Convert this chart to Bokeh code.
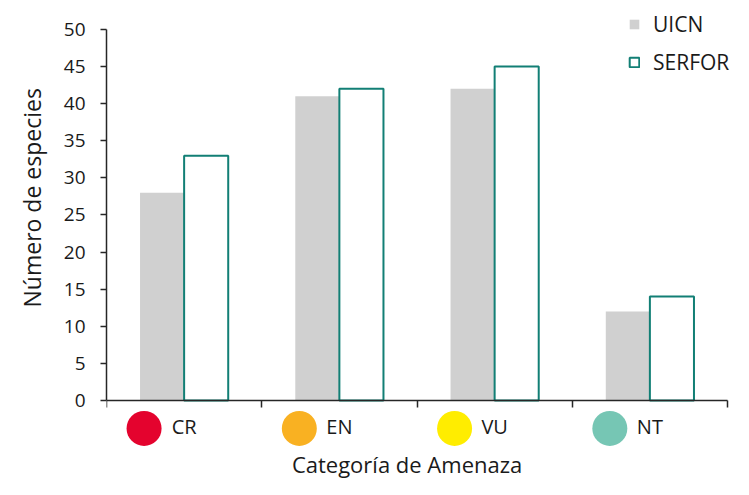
from bokeh.plotting import figure
from bokeh.models import Range1d, FixedTicker, Legend, LegendItem, Label, Title
from bokeh.embed import file_html
from bokeh.resources import INLINE

# ---- data ----
categories = ["CR", "EN", "VU", "NT"]
uicn = [28, 41, 42, 12]
serfor = [33, 42, 45, 14]
cat_colors = ["#E4032E", "#F9B122", "#FFED00", "#76C6B4"]
y_ticks = [0, 5, 10, 15, 20, 25, 30, 35, 40, 45, 50]
x_title = "Categoría de Amenaza"
y_title = "Número de especies"

FONT = "Open Sans"
TXT = "#1a1a1a"

centers = [i + 0.5 for i in range(len(categories))]
bounds_x = [i for i in range(len(categories) + 1)]
bw = 0.284
uicn_x = [c - bw / 2 for c in centers]
serfor_x = [c + bw / 2 for c in centers]

p = figure(width=733, height=479, output_backend="svg", toolbar_location=None,
           title=None,
           x_range=Range1d(0, 4.0386), y_range=Range1d(-10.65, 53.91),
           min_border_left=106, min_border_right=0, min_border_top=0, min_border_bottom=0)
p.outline_line_color = None
p.xgrid.visible = False
p.ygrid.visible = False
p.background_fill_color = "white"
p.border_fill_color = "white"

r_uicn = p.vbar(x=uicn_x, top=uicn, bottom=0, width=bw,
                fill_color="#D0D0D0", line_color=None)
r_serfor = p.vbar(x=serfor_x, top=serfor, bottom=0, width=bw,
                  fill_color="white", line_color="#127F75", line_width=2)

# category markers
p.scatter(x=[c - 0.258 for c in centers], y=[-3.77] * len(centers), size=35,
          fill_color=cat_colors, line_color=None)

# x axis
xa = p.xaxis[0]
xa.fixed_location = 0
xa.bounds = (0, 4)
xa.ticker = FixedTicker(ticks=centers, minor_ticks=bounds_x)
xa.major_label_overrides = {c: n for c, n in zip(centers, categories)}
xa.major_tick_out = 0
xa.major_tick_in = 0
xa.minor_tick_out = 7
xa.minor_tick_in = 0
xa.minor_tick_line_color = "#262626"
xa.minor_tick_line_width = 1.5
xa.axis_line_color = "#262626"
xa.axis_line_width = 1.5
xa.major_label_standoff = 6
xa.major_label_text_font = FONT
xa.major_label_text_font_size = "20px"
xa.major_label_text_color = TXT

# y axis
ya = p.yaxis[0]
ya.bounds = (0, 50)
ya.ticker = FixedTicker(ticks=y_ticks, minor_ticks=[])
ya.major_tick_out = 6
ya.major_tick_in = 0
ya.major_tick_line_color = "#262626"
ya.major_tick_line_width = 1.5
ya.axis_line_color = "#262626"
ya.axis_line_width = 1.5
ya.major_label_standoff = 15
ya.major_label_text_font = FONT
ya.major_label_text_font_size = "19px"
ya.major_label_text_color = TXT

# axis titles
p.add_layout(Label(x=1.936, y=-8.5, text=x_title, text_font=FONT,
                   text_font_size="22px", text_color=TXT,
                   text_align="center", text_baseline="middle"))
p.add_layout(Title(text=y_title, align="left", offset=172, standoff=26,
                   text_font=FONT, text_font_size="23px", text_color=TXT,
                   text_font_style="normal"), "left")

legend = Legend(items=[LegendItem(label="UICN", renderers=[r_uicn]),
                       LegendItem(label="SERFOR", renderers=[r_serfor])],
                location=(522, 403.5), orientation="vertical",
                glyph_width=12, glyph_height=12, label_standoff=13,
                label_text_font=FONT, label_text_font_size="21px",
                label_text_color=TXT, label_height=20, spacing=10,
                padding=0, margin=0, border_line_color=None,
                background_fill_alpha=0)
p.add_layout(legend)

open("out.html", "w").write(file_html(p, INLINE))
